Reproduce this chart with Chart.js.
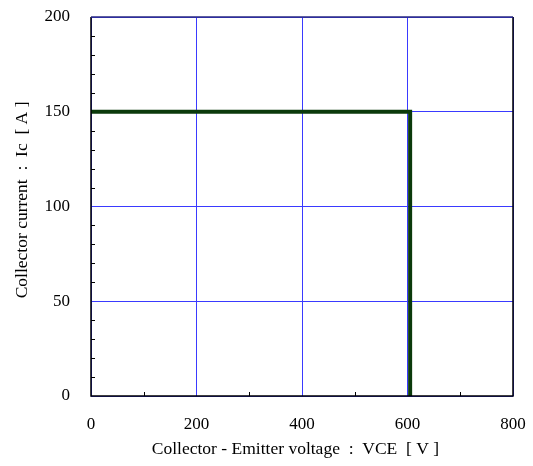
<!DOCTYPE html>
<html lang="en">
<head>
  <meta charset="UTF-8" />
  <title>RBSOA - Collector current vs Collector-Emitter voltage</title>
  <script src="https://cdn.jsdelivr.net/npm/chart.js"></script>
  <style>
    html, body { margin: 0; padding: 0; background: #fff; }
    #wrap { width: 533px; height: 466px; }
  </style>
</head>
<body>
<div id="wrap"><canvas id="soaChart" width="533" height="466"></canvas></div>

<script>
  // data
  const vceVolts = [0, 605, 605];
  const icAmps = [150, 150, 0];

  // axis ranges / tick steps
  const xRange = [0, 800];
  const xStep = 200;
  const xMinorStep = 100;
  const yRange = [0, 200];
  const yStep = 50;
  const yMinorStep = 10;

  const xTitle = 'Collector - Emitter voltage  :  VCE  [ V ]   ';
  const yTitle = '   Collector current  :  Ic  [ A ]';

  const serif = "'Liberation Serif', 'Times New Roman', serif";

  // frame + inward minor ticks
  const frameAndMinor = {
    id: 'frameAndMinor',
    afterDatasetsDraw(chart) {
      const { ctx, chartArea: a, scales: { x, y } } = chart;
      ctx.save();
      ctx.strokeStyle = '#000';
      ctx.lineWidth = 1;
      ctx.beginPath();
      for (let v = xRange[0] + xMinorStep; v < xRange[1]; v += xMinorStep) {
        if (v % xStep === 0) continue;
        const px = Math.round(x.getPixelForValue(v)) + 0.5;
        ctx.moveTo(px, a.bottom);
        ctx.lineTo(px, a.bottom - 4);
      }
      for (let v = yRange[0] + yMinorStep; v < yRange[1]; v += yMinorStep) {
        if (v % yStep === 0) continue;
        const py = Math.round(y.getPixelForValue(v)) + 0.5;
        ctx.moveTo(a.left, py);
        ctx.lineTo(a.left + 4, py);
      }
      ctx.stroke();

      ctx.lineWidth = 1.5;
      ctx.beginPath();
      ctx.moveTo(a.left, a.top);
      ctx.lineTo(a.left, a.bottom);
      ctx.lineTo(a.right, a.bottom);
      ctx.lineTo(a.right, a.top);
      ctx.stroke();
      ctx.strokeStyle = '#2a2a80';
      ctx.beginPath();
      ctx.moveTo(a.left, a.top);
      ctx.lineTo(a.right, a.top);
      ctx.stroke();
      ctx.restore();
    }
  };

  new Chart(document.getElementById('soaChart'), {
    type: 'scatter',
    data: {
      datasets: [{
        data: vceVolts.map((v, i) => ({ x: v, y: icAmps[i] })),
        showLine: true,
        borderColor: '#0b3a0b',
        borderWidth: 4,
        pointRadius: 0,
        fill: false,
        clip: false
      }]
    },
    options: {
      responsive: false,
      animation: false,
      layout: { autoPadding: false, padding: { left: 0, right: 20, top: 17, bottom: 0 } },
      plugins: {
        legend: { display: false },
        tooltip: { enabled: false }
      },
      scales: {
        x: {
          type: 'linear',
          min: xRange[0],
          max: xRange[1],
          ticks: { stepSize: xStep, padding: 18, color: '#000', font: { family: serif, size: 17 } },
          grid: { color: '#3a3aff', lineWidth: 1, drawTicks: false },
          border: { display: false },
          title: { display: true, text: xTitle, color: '#000', font: { family: serif, size: 17.5 }, padding: { top: 4, bottom: 6.5 } },
          afterFit(scale) {
            scale.height = 70;
            scale.paddingLeft = 0;
            scale.paddingRight = 0;
          }
        },
        y: {
          type: 'linear',
          min: yRange[0],
          max: yRange[1],
          ticks: { stepSize: yStep, padding: 21, color: '#000', font: { family: serif, size: 17 } },
          grid: { color: '#3a3aff', lineWidth: 1, drawTicks: false },
          border: { display: false },
          title: { display: true, text: yTitle, color: '#000', font: { family: serif, size: 17.5 }, padding: { top: 11.5, bottom: 4 } },
          afterFit(scale) {
            scale.width = 91;
            scale.paddingTop = 0;
            scale.paddingBottom = 0;
          }
        }
      }
    },
    plugins: [frameAndMinor]
  });
</script>
</body>
</html>
